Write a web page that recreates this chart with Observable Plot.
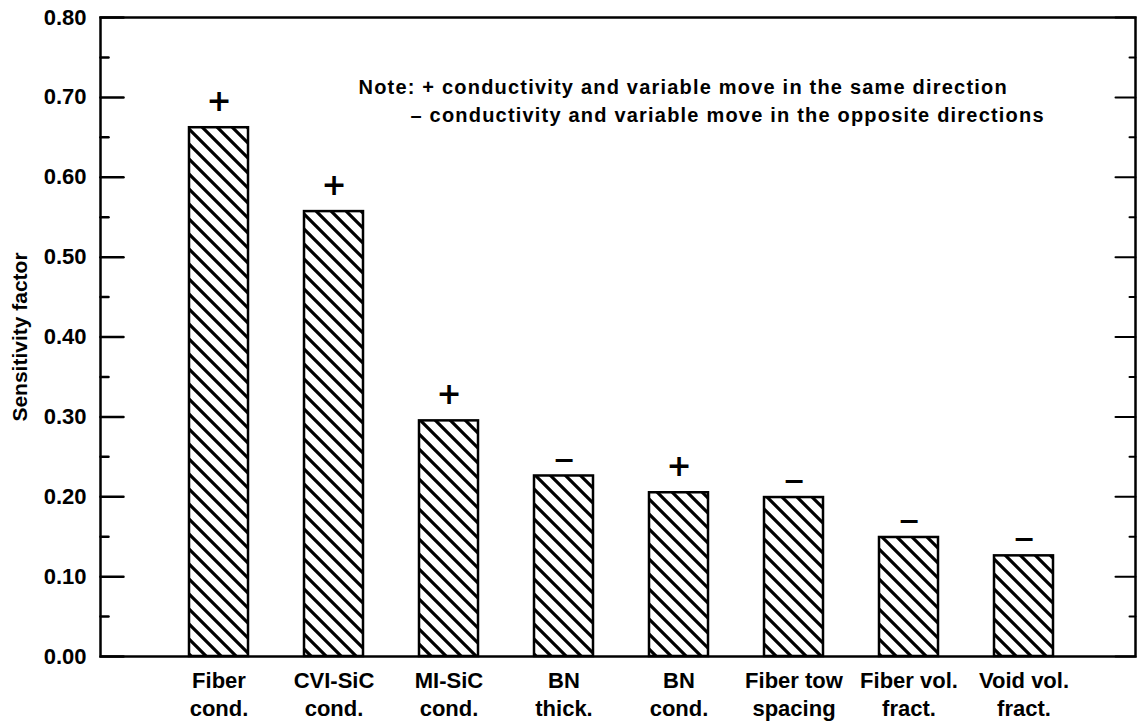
<!DOCTYPE html>
<html>
<head>
<meta charset="utf-8">
<script src="https://cdn.jsdelivr.net/npm/d3@7"></script>
<script src="https://cdn.jsdelivr.net/npm/@observablehq/plot@0.6"></script>
<style>
  html, body { margin: 0; padding: 0; background: #fff; }
</style>
</head>
<body>
<div id="chart"></div>
<script>
// ---- data ----
const categories = ["Fiber\ncond.", "CVI-SiC\ncond.", "MI-SiC\ncond.", "BN\nthick.", "BN\ncond.", "Fiber tow\nspacing", "Fiber vol.\nfract.", "Void vol.\nfract."];
const values = [0.662, 0.557, 0.295, 0.226, 0.205, 0.199, 0.149, 0.126];
const signs = ["+", "+", "+", "−", "+", "−", "−", "−"];
const yTicks = [0, 0.1, 0.2, 0.3, 0.4, 0.5, 0.6, 0.7, 0.8];
const yTickLabels = ["0.00", "0.10", "0.20", "0.30", "0.40", "0.50", "0.60", "0.70", "0.80"];
const yMinorTicks = [0.05, 0.15, 0.25, 0.35, 0.45, 0.55, 0.65, 0.75];
const yLabel = ["Sensitivity factor"];
const noteLine1 = ["Note: + conductivity and variable move in the same direction"];
const noteLine2 = ["– conductivity and variable move in the opposite directions"];

const data = categories.map((c, i) => ({cat: c, value: values[i], sign: signs[i]}));

const font = "Liberation Sans, Arial, sans-serif";
const signFont = "DejaVu Sans";

// a plain straight tick, drawn from the anchor point in the vector's direction
const tickShape = {draw(context, l) { context.moveTo(0, 0); context.lineTo(0, -l); }};

const chart = Plot.plot({
  width: 1138,
  height: 723,
  marginLeft: 100,
  marginRight: 3,
  marginTop: 17,
  marginBottom: 67,
  style: {fontFamily: font, background: "white", color: "black"},
  x: {domain: categories, paddingInner: 0.487, paddingOuter: 0.74, align: 0.52, label: null},
  y: {domain: [0, 0.8], label: null},
  marks: [
    Plot.barY(data, {x: "cat", y: "value", fill: "url(#hatch)", stroke: "black", strokeWidth: 2.5}),
    Plot.frame({stroke: "black", strokeWidth: 2.5}),
    // left ticks (inward)
    Plot.vector(yTicks, {y: d => d, frameAnchor: "left", anchor: "start", rotate: 90, length: 23, shape: tickShape, stroke: "black", strokeWidth: 2.5}),
    Plot.vector(yMinorTicks, {y: d => d, frameAnchor: "left", anchor: "start", rotate: 90, length: 8, shape: tickShape, stroke: "black", strokeWidth: 2.5}),
    // right ticks (inward)
    Plot.vector(yTicks, {y: d => d, frameAnchor: "right", anchor: "start", rotate: -90, length: 20, shape: tickShape, stroke: "black", strokeWidth: 2}),
    Plot.vector(yMinorTicks, {y: d => d, frameAnchor: "right", anchor: "start", rotate: -90, length: 6, shape: tickShape, stroke: "black", strokeWidth: 2}),
    // left tick labels
    Plot.axisY(yTicks, {anchor: "left", tickSize: 0, tickPadding: 14, fontSize: 22, fontWeight: "bold",
      tickFormat: d => yTickLabels[yTicks.indexOf(d)], label: null}),
    // x tick labels
    Plot.axisX({anchor: "bottom", tickSize: 0, tickPadding: 12, fontSize: 22, fontWeight: "bold", lineHeight: 1.27, label: null}),
    // y label
    Plot.text(yLabel, {frameAnchor: "left", textAnchor: "middle", rotate: -90, dx: -80, fontSize: 21, fontWeight: "bold", fill: "black"}),
    // signs
    Plot.text(data.filter(d => d.sign === "+"), {x: "cat", y: "value", text: "sign", dy: -26, fontSize: 30, fontWeight: "bold", fontFamily: signFont, fill: "black"}),
    Plot.text(data.filter(d => d.sign !== "+"), {x: "cat", y: "value", text: "sign", dy: -16, fontSize: 27, fontWeight: "bold", fontFamily: signFont, fill: "black"}),
    // note
    Plot.text(noteLine1, {frameAnchor: "top-left", dx: 258, dy: 62, textAnchor: "start", fontSize: 20, fontWeight: "bold", fill: "black"}),
    Plot.text(noteLine2, {frameAnchor: "top-left", dx: 310, dy: 90, textAnchor: "start", fontSize: 20, fontWeight: "bold", fill: "black"})
  ]
});

d3.select(chart).insert("defs", ":first-child").html(
  '<pattern id="hatch" patternUnits="userSpaceOnUse" width="15" height="15">' +
  '<rect width="15" height="15" fill="white"/>' +
  '<path d="M0,0L15,15M-3,12L3,18M12,-3L18,3" stroke="black" stroke-width="3.2"/>' +
  '</pattern>'
);

// slightly wider tracking for the note, as in the reference
d3.select(chart).selectAll("text")
  .filter(function() { return this.textContent === noteLine1[0] || this.textContent === noteLine2[0]; })
  .style("letter-spacing", "1.2px");

document.getElementById("chart").appendChild(chart);
</script>
</body>
</html>
